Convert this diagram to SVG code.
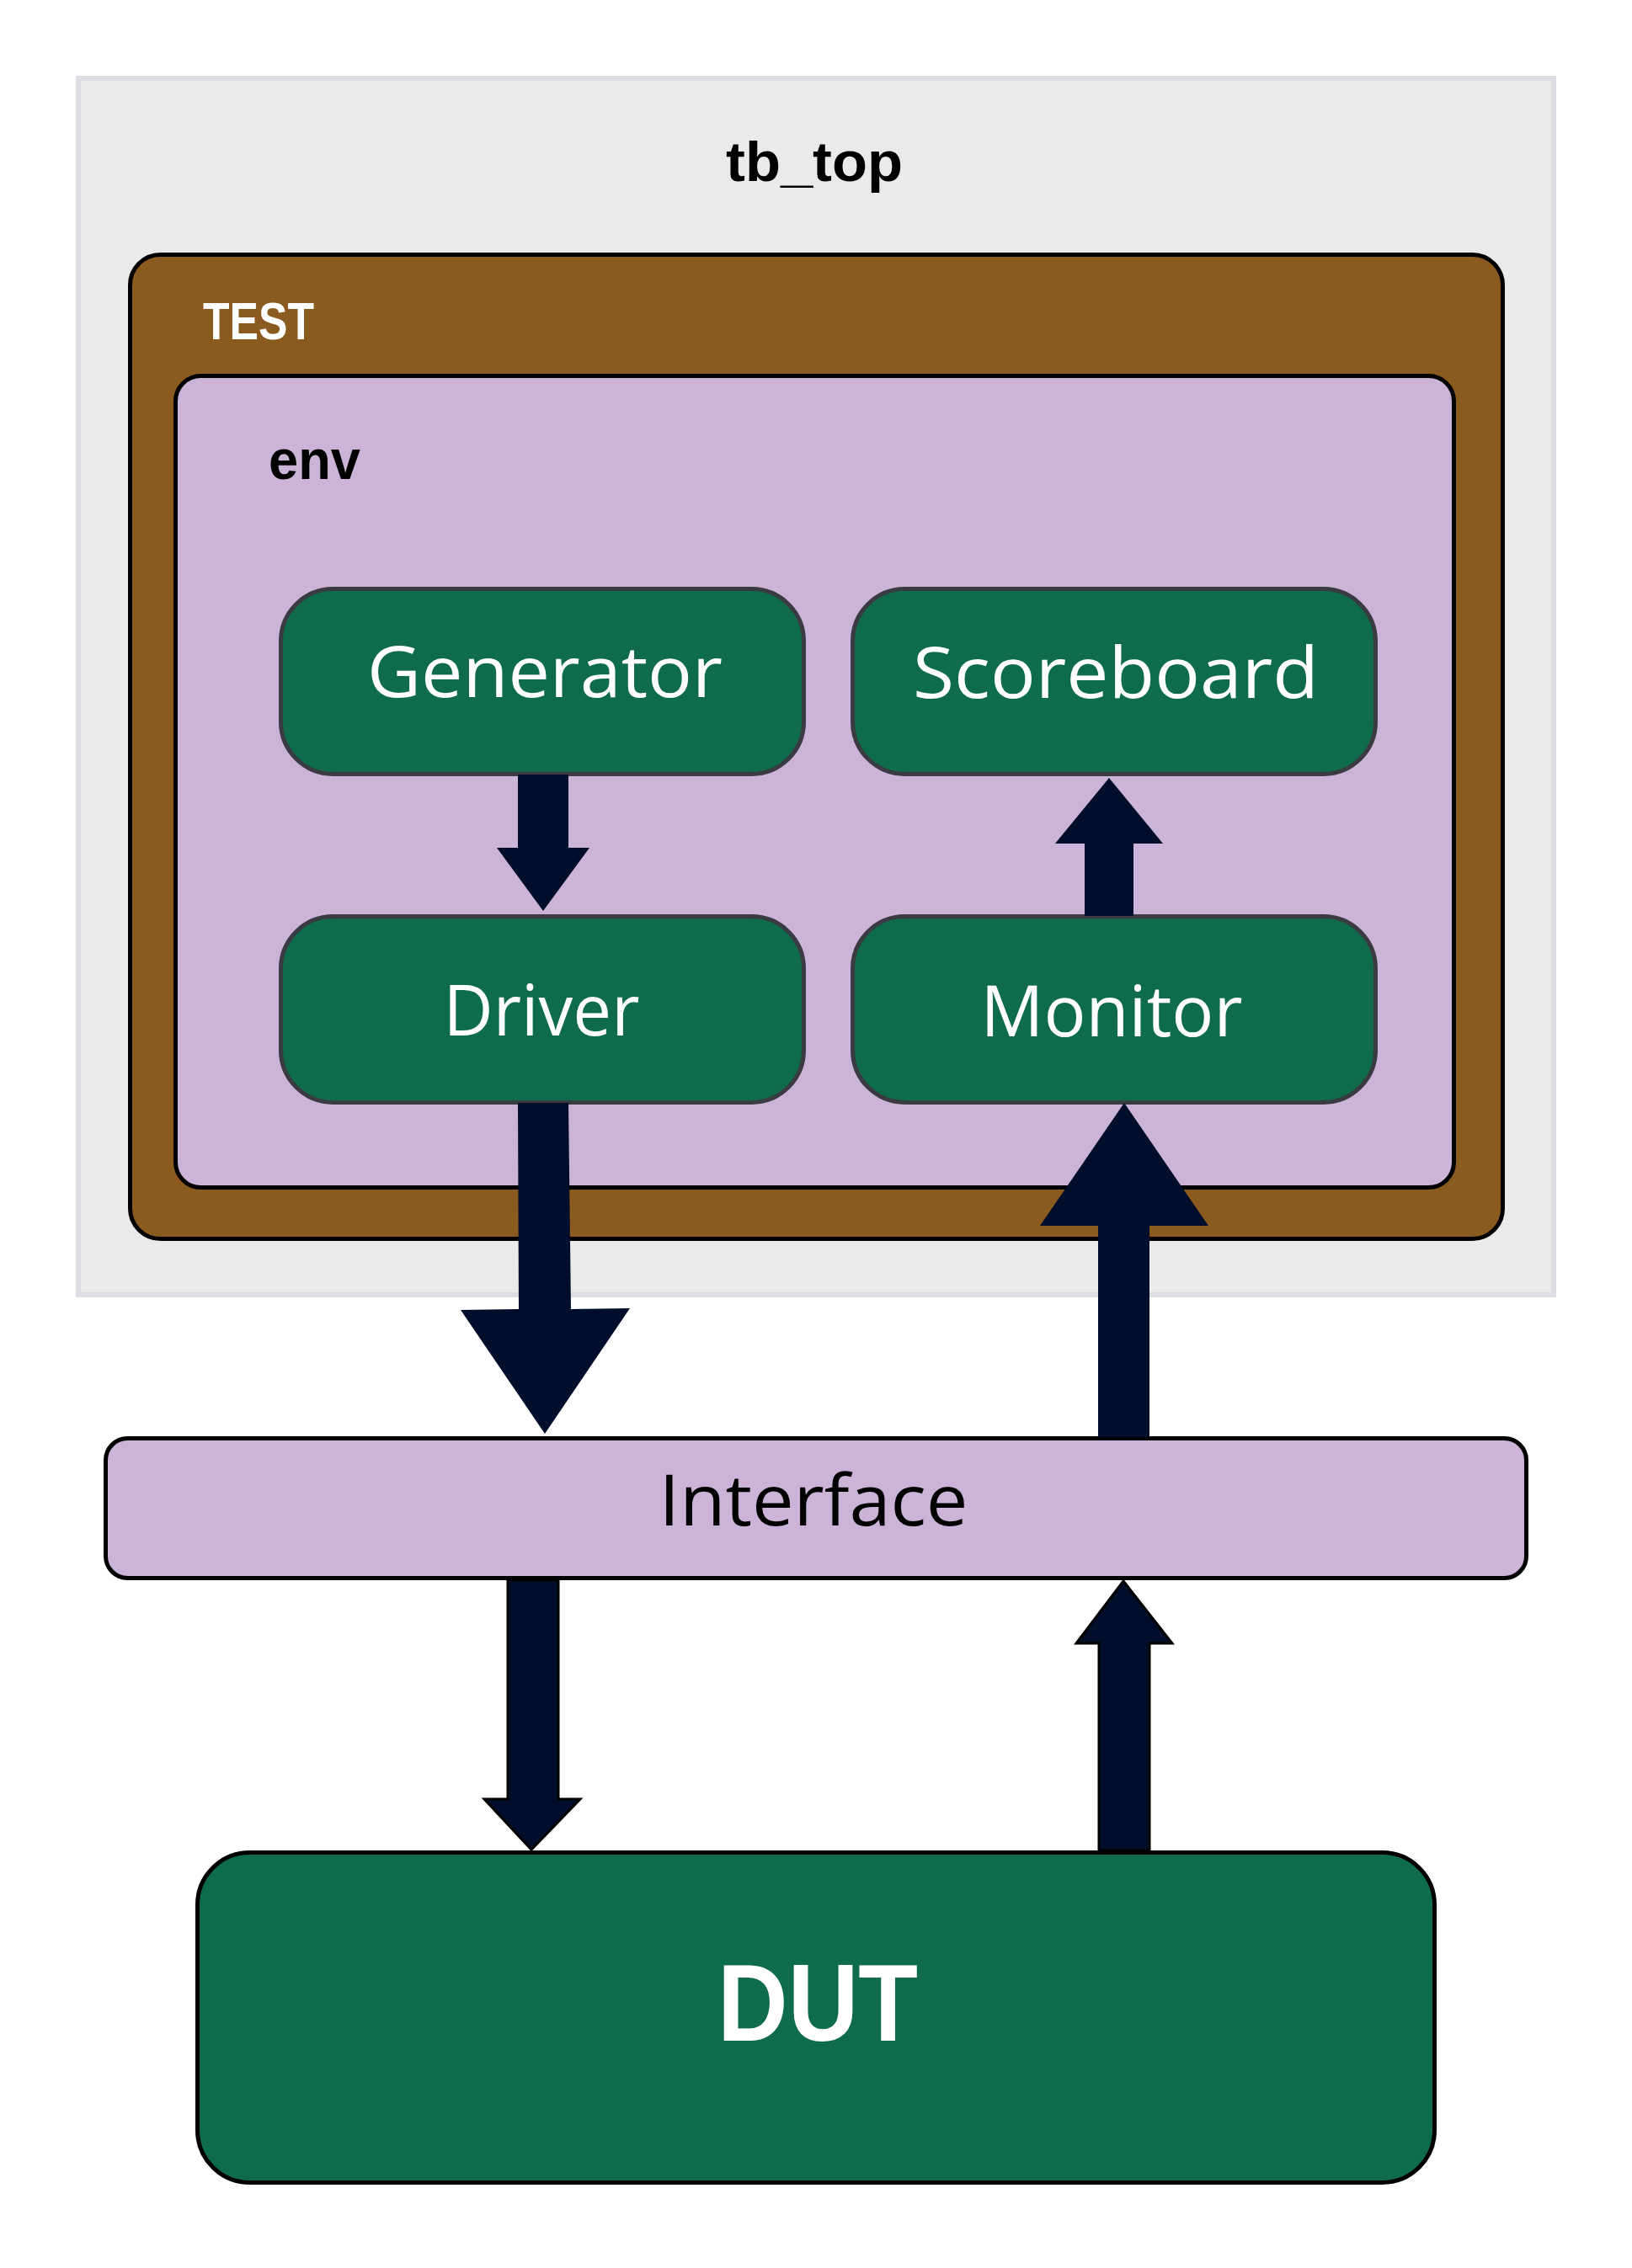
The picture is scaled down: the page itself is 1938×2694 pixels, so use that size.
<svg xmlns="http://www.w3.org/2000/svg" width="1938" height="2694" viewBox="0 0 1938 2694">
<style>
.lbl{font-family:"Open Sans","Liberation Sans",sans-serif;font-size:84px;fill:#ffffff;text-anchor:middle}
.ttl{font-family:"Liberation Sans","Inter",sans-serif;font-weight:700;fill:#000000}
.blk{fill:#0e6b4b;stroke:#3a3a42;stroke-width:5}
.arr{fill:#010e2b}
.arr2{fill:#010e2b;stroke:#000000;stroke-width:3;stroke-linejoin:miter}
</style>
<rect width="1938" height="2694" fill="#ffffff"/>
<g id="tb_top">
<rect x="93" y="93" width="1752" height="1445" fill="#eaeaeb" stroke="#dcdce4" stroke-width="6"/>
<text class="ttl" x="967" y="215" font-size="66" text-anchor="middle" textLength="210" lengthAdjust="spacingAndGlyphs">tb_top</text>
</g>
<g id="test">
<rect x="154.5" y="302.5" width="1630" height="1169" rx="36" fill="#8a5a1e" stroke="#000000" stroke-width="5"/>
<text class="ttl" x="241" y="403" font-size="63" style="fill:#ffffff" textLength="132" lengthAdjust="spacingAndGlyphs">TEST</text>
</g>
<g id="env">
<rect x="208.5" y="446.5" width="1518" height="964" rx="30" fill="#cbb4d7" stroke="#000000" stroke-width="5"/>
<text class="ttl" x="319" y="569" font-size="66" textLength="109" lengthAdjust="spacingAndGlyphs">env</text>
</g>
<g id="generator">
<rect class="blk" x="333.5" y="699.5" width="621" height="220" rx="62"/>
<text class="lbl" x="647" y="828" textLength="422" lengthAdjust="spacingAndGlyphs">Generator</text>
</g>
<g id="scoreboard">
<rect class="blk" x="1012.5" y="699.5" width="621" height="220" rx="62"/>
<text class="lbl" x="1325" y="829" textLength="482" lengthAdjust="spacingAndGlyphs">Scoreboard</text>
</g>
<g id="driver">
<rect class="blk" x="333.5" y="1088.5" width="621" height="221" rx="62"/>
<text class="lbl" x="643" y="1230" textLength="233" lengthAdjust="spacingAndGlyphs">Driver</text>
</g>
<g id="monitor">
<rect class="blk" x="1012.5" y="1088.5" width="621" height="221" rx="62"/>
<text class="lbl" x="1320" y="1231" textLength="311" lengthAdjust="spacingAndGlyphs">Monitor</text>
</g>
<g id="interface">
<rect x="125.5" y="1708.5" width="1687" height="166" rx="26" fill="#cbb4d7" stroke="#000000" stroke-width="5"/>
<text class="lbl" x="966" y="1812" style="fill:#000000" textLength="367" lengthAdjust="spacingAndGlyphs">Interface</text>
</g>
<g id="dut">
<rect x="234.5" y="2200.5" width="1469" height="392" rx="62" fill="#0e6b4b" stroke="#000000" stroke-width="5"/>
<text class="ttl" x="971" y="2424" font-size="130" text-anchor="middle" style="fill:#ffffff" textLength="238" lengthAdjust="spacingAndGlyphs">DUT</text>
</g>
<g id="connectors">
<polygon class="arr" points="615,920 675,920 675,1007 700,1007 645,1082 590,1007 615,1007"/>
<polygon class="arr" points="1288,1088 1346,1088 1346,1002 1381,1002 1317,924 1253,1002 1288,1002"/>
<polygon class="arr" points="615,1310 675,1310 678,1555 748,1554 647,1703 547,1556 616,1555"/>
<polygon class="arr" points="1304,1707 1365,1707 1365,1456 1435,1456 1335,1310 1235,1456 1304,1456"/>
<polygon class="arr2" points="603,1877 663,1877 663,2137 689,2137 631,2197 575,2137 603,2137"/>
<polygon class="arr2" points="1305,2198 1365,2198 1365,1952 1392,1952 1334,1878 1278,1952 1305,1952"/>
</g>
</svg>
